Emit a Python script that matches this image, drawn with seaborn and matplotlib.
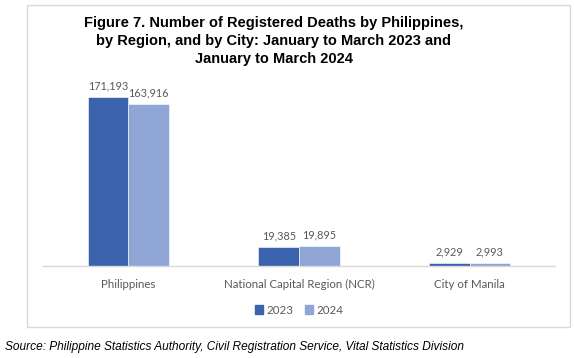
import numpy as np
import pandas as pd
import matplotlib
matplotlib.use("Agg")
import matplotlib.pyplot as plt
import seaborn as sns
from matplotlib.patches import Rectangle

# data
categories = ["Philippines", "National Capital Region (NCR)", "City of Manila"]
years = ["2023", "2024"]
deaths_2023 = [171193, 19385, 2929]
deaths_2024 = [163916, 19895, 2993]

title = ("Figure 7. Number of Registered Deaths by Philippines,\n"
         "by Region, and by City: January to March 2023 and\n"
         "January to March 2024")
source = "Source: Philippine Statistics Authority, Civil Registration Service, Vital Statistics Division"

df = pd.DataFrame({
    "area": categories * 2,
    "year": [years[0]] * 3 + [years[1]] * 3,
    "deaths": deaths_2023 + deaths_2024,
})

COLORS = ["#3A62AD", "#8FA6D7"]
TXT = "#595959"

sns.set_theme(style="white")
plt.rcParams["font.family"] = ["Lato", "DejaVu Sans"]

fig = plt.figure(figsize=(5.74, 3.58), dpi=100)
ax = fig.add_axes([43 / 574, 1 - 266 / 358, 512 / 574, 186 / 358])

sns.barplot(data=df, x="area", y="deaths", hue="year", order=categories,
            hue_order=years, palette=COLORS, width=0.475, gap=0,
            saturation=1, ax=ax, legend=False, edgecolor="white", linewidth=0.4)

for cont in ax.containers:
    ax.bar_label(cont, labels=[f"{v:,.0f}" for v in cont.datavalues],
                 padding=4, fontsize=7.8, color=TXT)

ax.set_xlim(-0.5, 2.5)
ax.set_ylim(0, 188400)
ax.set_xlabel("")
ax.set_ylabel("")
ax.set_yticks([])
ax.tick_params(axis="x", length=0, pad=9, labelsize=8.3, labelcolor=TXT)
for s in ["top", "left", "right"]:
    ax.spines[s].set_visible(False)
ax.spines["bottom"].set_color("#D9D9D9")
ax.spines["bottom"].set_linewidth(1)

# legend
handles = [Rectangle((0, 0), 1, 1, color=c) for c in COLORS]
leg = fig.legend(handles, years, loc="center", bbox_to_anchor=(299 / 574, 1 - 310 / 358),
                 ncol=2, frameon=False, fontsize=8.3, handlelength=0.7, handleheight=0.7,
                 handletextpad=0.3, columnspacing=1.0)
for t in leg.get_texts():
    t.set_color(TXT)

# outer frame
fig.patches.append(Rectangle((27 / 574, 1 - 327 / 358), 543 / 574, 322 / 358,
                             transform=fig.transFigure, fill=False,
                             edgecolor="#D9D9D9", linewidth=1))

fig.text(274 / 574, 1 - 41 / 358, title, ha="center", va="center",
         fontsize=10.5, fontweight="bold", family="Liberation Sans",
         color="black", linespacing=1.4)
fig.text(5 / 574, 1 - 347 / 358, source, ha="left", va="center",
         fontsize=8.55, style="italic", family="Liberation Sans", color="black")

fig.savefig("out.png", dpi=100)
